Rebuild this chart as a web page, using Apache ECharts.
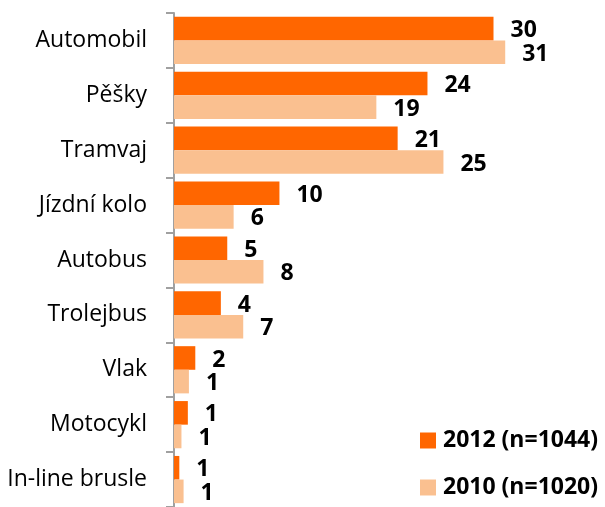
<!DOCTYPE html>
<html>
<head>
<meta charset="utf-8">
<script src="https://cdn.jsdelivr.net/npm/echarts@6/dist/echarts.min.js"></script>
<style>
  html, body { margin: 0; padding: 0; background: #fff; }
  #chart { width: 605px; height: 507px; }
</style>
</head>
<body>
<div id="chart"></div>
<script>
// categories top to bottom
const categories = ['Automobil', 'Pěšky', 'Tramvaj', 'Jízdní kolo', 'Autobus', 'Trolejbus', 'Vlak', 'Motocykl', 'In-line brusle']
// percentages (labels show rounded values)
const values2012 = [30, 23.8, 21.0, 9.9, 5.0, 4.4, 2.0, 1.3, 0.5]
const values2010 = [31.1, 19.0, 25.3, 5.6, 8.4, 6.5, 1.4, 0.7, 0.9]
const seriesNames = ['2012 (n=1044)', '2010 (n=1020)']

const colors = {
  dark: '#FF6600',
  light: '#FAC090',
  axis: '#A0A0A0',
  text: '#000000',
}
const font = '"Open Sans", "DejaVu Sans", sans-serif'

const labelStyle = {
  show: true,
  position: 'right',
  distance: 17,
  offset: [0, 2],
  color: colors.text,
  fontFamily: font,
  fontWeight: 'bold',
  fontSize: 23,
  formatter: (p) => Math.round(p.value),
}

function legendItem(name, top) {
  return {
    orient: 'vertical',
    left: 420,
    top,
    padding: 0,
    itemWidth: 16,
    itemHeight: 16,
    icon: 'rect',
    data: [name],
    textStyle: { color: colors.text, fontFamily: font, fontWeight: 'bold', fontSize: 23, padding: [0, 0, 0, 2] },
  }
}

const chart = echarts.init(document.getElementById('chart'), null, { renderer: 'canvas' })
chart.setOption({
  animation: false,
  grid: { left: 174, top: 13, width: 426, height: 498, containLabel: false },
  legend: [legendItem(seriesNames[0], 429), legendItem(seriesNames[1], 476)],
  xAxis: {
    type: 'value',
    min: 0,
    max: 40,
    show: false,
  },
  yAxis: {
    type: 'category',
    inverse: true,
    data: categories,
    axisLine: { lineStyle: { color: colors.axis, width: 2 } },
    axisTick: { show: true, length: 8, lineStyle: { color: colors.axis, width: 2 } },
    axisLabel: { color: colors.text, fontFamily: font, fontSize: 23, margin: 27 },
    splitLine: { show: false },
  },
  series: [
    {
      name: seriesNames[0],
      type: 'bar',
      data: values2012,
      barGap: 0,
      barCategoryGap: '14%',
      itemStyle: { color: colors.dark },
      label: labelStyle,
    },
    {
      name: seriesNames[1],
      type: 'bar',
      data: values2010,
      itemStyle: { color: colors.light },
      label: labelStyle,
    },
  ],
})
</script>
</body>
</html>
